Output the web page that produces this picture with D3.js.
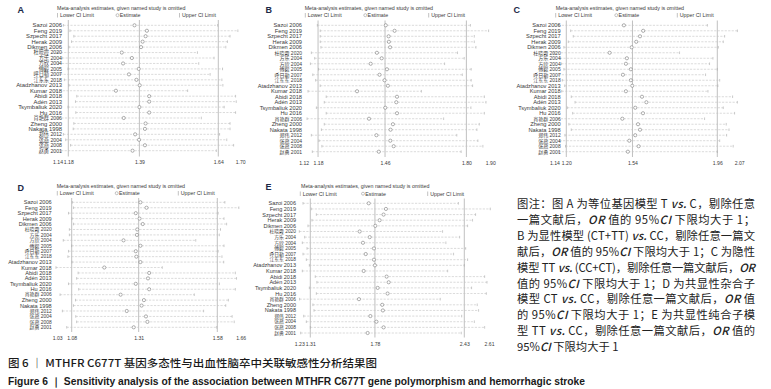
<!DOCTYPE html>
<html><head><meta charset="utf-8">
<script src="https://cdn.jsdelivr.net/npm/d3@7"></script>
<style>body{margin:0;background:#fff}svg{display:block}</style>
</head><body>
<svg id="c" width="771" height="389"></svg>
<script>
const studies = ["Sazoi 2006","Feng 2019","Szpecht 2017","Herak 2009","Dikmen 2006","杜晓霞 2020","方乐 2004","方欣 2004","傅毅 2005","呼日勒 2007","江东东 2018","Atadzhanov 2013","Kumar 2018","Abidi 2018","Adén 2013","Tsymbaliuk 2020","Hu 2016","肖艳群 2006","Zheng 2000","Nakata 1998","郑伟 2012","张燕 2004","张燕 2008","赵勇 2001"];

const lowerA = [1.165,1.185,1.197,1.190,1.182,1.146,1.161,1.150,1.179,1.155,1.168,1.182,1.142,1.206,1.202,1.179,1.203,1.148,1.197,1.195,1.165,1.172,1.187,1.158];
const estA   = [1.383,1.421,1.417,1.408,1.403,1.344,1.375,1.348,1.396,1.366,1.389,1.399,1.326,1.428,1.428,1.398,1.428,1.350,1.417,1.415,1.385,1.397,1.415,1.377];
const upperA = [1.638,1.700,1.676,1.668,1.663,1.576,1.627,1.580,1.653,1.615,1.651,1.654,1.546,1.693,1.695,1.658,1.693,1.588,1.676,1.676,1.644,1.666,1.687,1.634];
const overallA = [1.18,1.398,1.64];
const tickValsA = [1.147,1.18,1.398,1.64,1.707];
const tickLabelsA = ["1.14","1.18","1.39","1.64","1.70"];

const lowerB = [1.177,1.189,1.189,1.189,1.192,1.152,1.166,1.148,1.182,1.158,1.170,1.189,1.138,1.214,1.206,1.173,1.214,1.134,1.206,1.194,1.152,1.184,1.196,1.156];
const estB   = [1.463,1.500,1.475,1.476,1.481,1.426,1.446,1.400,1.468,1.437,1.458,1.472,1.343,1.510,1.507,1.461,1.510,1.393,1.493,1.483,1.424,1.482,1.496,1.434];
const upperB = [1.817,1.893,1.833,1.833,1.840,1.763,1.791,1.709,1.820,1.783,1.820,1.826,1.612,1.875,1.882,1.819,1.875,1.705,1.854,1.844,1.760,1.848,1.869,1.778];
const overallB = [1.18,1.46,1.80];
const tickValsB = [1.12,1.18,1.46,1.80,1.90];
const tickLabelsB = ["1.12","1.18","1.46","1.80","1.90"];

const lowerC = [1.160,1.222,1.235,1.210,1.188,1.138,1.168,1.175,1.188,1.160,1.180,1.192,1.177,1.225,1.244,1.205,1.232,1.155,1.213,1.225,1.193,1.166,1.196,1.160];
const estC   = [1.490,1.587,1.571,1.552,1.529,1.418,1.505,1.500,1.525,1.485,1.525,1.532,1.500,1.581,1.603,1.547,1.586,1.482,1.561,1.571,1.547,1.517,1.564,1.510];
const upperC = [1.910,2.061,1.997,1.990,1.965,1.770,1.938,1.921,1.960,1.901,1.972,1.963,1.913,2.037,2.061,1.990,2.047,1.896,2.005,2.019,2.007,1.972,2.040,1.960];
const overallC = [1.20,1.533,1.96];
const tickValsC = [1.14,1.20,1.533,1.96,2.07];
const tickLabelsC = ["1.14","1.20","1.54","1.96","2.07"];

const lowerD = [1.082,1.086,1.069,1.081,1.086,1.072,1.072,1.051,1.080,1.069,1.067,1.081,1.026,1.102,1.097,1.069,1.104,1.040,1.093,1.086,1.048,1.094,1.097,1.063];
const estD   = [1.316,1.337,1.300,1.313,1.324,1.305,1.304,1.258,1.316,1.300,1.302,1.316,1.192,1.346,1.342,1.300,1.346,1.248,1.328,1.320,1.269,1.335,1.340,1.293];
const upperD = [1.606,1.654,1.583,1.603,1.612,1.591,1.587,1.506,1.603,1.583,1.596,1.602,1.391,1.642,1.646,1.587,1.642,1.501,1.618,1.609,1.533,1.631,1.638,1.578];
const overallD = [1.08,1.31,1.58];
const tickValsD = [1.03,1.08,1.31,1.58,1.66];
const tickLabelsD = ["1.03","1.08","1.31","1.58","1.66"];

const lowerE = [1.257,1.317,1.354,1.322,1.293,1.230,1.269,1.252,1.286,1.257,1.281,1.303,1.252,1.346,1.358,1.303,1.354,1.232,1.329,1.337,1.262,1.281,1.310,1.240];
const estE   = [1.735,1.860,1.843,1.814,1.783,1.669,1.742,1.693,1.773,1.713,1.773,1.780,1.698,1.865,1.880,1.800,1.872,1.664,1.833,1.838,1.747,1.791,1.843,1.727];
const upperE = [2.387,2.619,2.512,2.490,2.454,2.272,2.396,2.296,2.440,2.352,2.454,2.430,2.309,2.578,2.595,2.483,2.590,2.255,2.524,2.534,2.411,2.503,2.578,2.408];
const overallE = [1.31,1.78,2.43];
const tickValsE = [1.23,1.31,1.78,2.43,2.61];
const tickLabelsE = ["1.23","1.31","1.78","2.43","2.61"];

const titleText = "Meta-analysis estimates, given named study is omitted";
const legendTexts = ["Lower CI Limit","Estimate","Upper CI Limit"];

const noteLines = [
 "图注：图 A 为等位基因模型 T *vs.* C，剔除任意",
 "一篇文献后，*OR* 值的 95%*CI* 下限均大于 1；",
 "B 为显性模型 (CT+TT) *vs.* CC，剔除任意一篇文",
 "献后，*OR* 值的 95%*CI* 下限均大于 1；C 为隐性",
 "模型 TT *vs.* (CC+CT)，剔除任意一篇文献后，*OR*",
 "值的 95%*CI* 下限均大于 1；D 为共显性杂合子",
 "模型 CT *vs.* CC，剔除任意一篇文献后，*OR* 值",
 "的 95%*CI* 下限均大于 1；E 为共显性纯合子模",
 "型 TT *vs.* CC，剔除任意一篇文献后，*OR* 值的",
 "95%*CI* 下限均大于 1"
];
const captionCN = "图 6 ｜ MTHFR C677T 基因多态性与出血性脑卒中关联敏感性分析结果图";
const captionEN = "Figure 6 ｜ Sensitivity analysis of the association between MTHFR C677T gene polymorphism and hemorrhagic stroke";

const FONT = "'Liberation Sans', Arial, 'Noto Sans CJK SC', sans-serif";
const svg = d3.select("#c");

const panels = [
 {key:"A", lo:lowerA, est:estA, up:upperA, overall:overallA, tv:tickValsA, tl:tickLabelsA,
  dom:[1.18,1.64], rng:[68.3,218.3], y0:25.3, y1:150.7, labelX:62, labelFs:5.9,
  letter:[17.5,12.5], titleX:57, titleY:9.5, legY:17, legX:[57.5,117.5,179.5], refTop:20, refBot:156.5, tickY:163.5},
 {key:"B", lo:lowerB, est:estB, up:upperB, overall:overallB, tv:tickValsB, tl:tickLabelsB,
  dom:[1.12,1.90], rng:[303.7,490.3], y0:25.3, y1:151.7, labelX:302, labelFs:5.7,
  letter:[265.5,12.5], titleX:304.7, titleY:9.5, legY:17, legX:[305.3,365.3,428.7], refTop:20.5, refBot:157, tickY:164.5},
 {key:"C", lo:lowerC, est:estC, up:upperC, overall:overallC, tv:tickValsC, tl:tickLabelsC,
  dom:[1.20,1.96], rng:[566.3,717.3], y0:25.3, y1:151.7, labelX:560.7, labelFs:5.7,
  letter:[513.5,12.5], titleX:555.7, titleY:9.5, legY:17, legX:[555.7,616.3,677.3], refTop:20.5, refBot:157, tickY:164.5},
 {key:"D", lo:lowerD, est:estD, up:upperD, overall:overallD, tv:tickValsD, tl:tickLabelsD,
  dom:[1.08,1.58], rng:[71.7,217.3], y0:202.3, y1:327.3, labelX:51.7, labelFs:5.6,
  letter:[17.5,191], titleX:56.7, titleY:187.5, legY:195, legX:[57.3,116.7,178.3], refTop:198, refBot:332, tickY:339.5},
 {key:"E", lo:lowerE, est:estE, up:upperE, overall:overallE, tv:tickValsE, tl:tickLabelsE,
  dom:[1.31,2.43], rng:[310.3,464.3], y0:203.3, y1:333, labelX:296, labelFs:5.5,
  letter:[265.5,190], titleX:301, titleY:187.5, legY:195.5, legX:[300.3,363,427.7], refTop:198.5, refBot:337.5, tickY:345.5}
];

const refCol = "#b0b0b0", ciCol = "#c2c2c2", dotCol = "#7a7a7a", txtCol = "#3a3a3a";
const isCJK = s => /[\u4e00-\u9fff]/.test(s);

panels.forEach(p => {
  const g = svg.append("g").attr("font-family", FONT);
  const x = d3.scaleLinear().domain(p.dom).range(p.rng);
  const y = d3.scalePoint().domain(studies).range([p.y0, p.y1]);
  const rows = studies.map((s,i)=>({s, lo:p.lo[i], est:p.est[i], up:p.up[i]}));

  g.append("text").attr("x", p.letter[0]).attr("y", p.letter[1]).text(p.key)
    .attr("font-size", 9).attr("font-weight", "bold").attr("fill", "#1c2846");

  g.append("text").attr("x", p.titleX).attr("y", p.titleY).text(titleText)
    .attr("font-size", 5.3).attr("fill", txtCol);
  const lg = g.append("g").attr("font-size", 5.3).attr("fill", txtCol);
  lg.append("line").attr("x1", p.legX[0]).attr("x2", p.legX[0]).attr("y1", p.legY-4).attr("y2", p.legY+0.5).attr("stroke", "#999").attr("stroke-width", 0.6);
  lg.append("text").attr("x", p.legX[0]+2.5).attr("y", p.legY).text(legendTexts[0]);
  lg.append("circle").attr("cx", p.legX[1]).attr("cy", p.legY-1.8).attr("r", 1.5).attr("fill", "none").attr("stroke", "#888").attr("stroke-width", 0.5);
  lg.append("text").attr("x", p.legX[1]+2.3).attr("y", p.legY).text(legendTexts[1]);
  lg.append("line").attr("x1", p.legX[2]).attr("x2", p.legX[2]).attr("y1", p.legY-4).attr("y2", p.legY+0.5).attr("stroke", "#999").attr("stroke-width", 0.6);
  lg.append("text").attr("x", p.legX[2]+2.5).attr("y", p.legY).text(legendTexts[2]);

  g.selectAll("line.ref").data(p.overall).join("line").attr("class","ref")
    .attr("x1", d=>x(d)).attr("x2", d=>x(d)).attr("y1", p.refTop).attr("y2", p.refBot)
    .attr("stroke", refCol).attr("stroke-width", 0.8);

  g.selectAll("line.ci").data(rows).join("line").attr("class","ci")
    .attr("x1", d=>x(d.lo)).attr("x2", d=>x(d.up)).attr("y1", d=>y(d.s)).attr("y2", d=>y(d.s))
    .attr("stroke", ciCol).attr("stroke-width", 0.6).attr("stroke-dasharray", "2.2,1.3");
  ["lo","up"].forEach(k => {
    g.selectAll("line.end"+k).data(rows).join("line").attr("class","end"+k)
      .attr("x1", d=>x(d[k])).attr("x2", d=>x(d[k])).attr("y1", d=>y(d.s)-1.3).attr("y2", d=>y(d.s)+1.3)
      .attr("stroke", "#aaa").attr("stroke-width", 0.6);
  });
  g.selectAll("circle.est").data(rows).join("circle").attr("class","est")
    .attr("cx", d=>x(d.est)).attr("cy", d=>y(d.s)).attr("r", 1.6)
    .attr("fill", "#fff").attr("stroke", dotCol).attr("stroke-width", 0.6);

  g.selectAll("text.lab").data(rows).join("text").attr("class","lab")
    .attr("x", p.labelX).attr("y", d=>y(d.s)).attr("dy", "0.36em").attr("text-anchor", "end")
    .attr("font-size", d => isCJK(d.s) ? p.labelFs*0.88 : p.labelFs)
    .attr("fill", txtCol).text(d=>d.s);

  const fs = 5.1;
  const ax = g.append("g").attr("transform", `translate(0,${p.tickY - fs*0.71})`)
    .call(d3.axisBottom(x).tickValues(p.tv).tickFormat((d,i)=>p.tl[i]).tickSize(0).tickPadding(0));
  ax.select(".domain").remove();
  ax.selectAll("text").attr("font-size", fs).attr("fill", txtCol).attr("font-family", FONT);
});

const noteX = 517, noteW = 238;
const ng = svg.append("g").attr("font-family", "'Noto Sans CJK SC', 'Noto Sans', sans-serif").attr("font-size", 11.3).attr("fill", "#222");
noteLines.forEach((line, i) => {
  const t = ng.append("text").attr("x", noteX).attr("y", 208 + i*15.9);
  line.split("*").forEach((seg, j) => {
    if (!seg) return;
    const ts = t.append("tspan").text(seg);
    if (j%2) ts.attr("font-style", "italic").attr("font-weight", 500);
  });
  if (i < noteLines.length - 1) t.attr("textLength", noteW).attr("lengthAdjust", "spacing");
});

svg.append("text").attr("x", 8).attr("y", 367).text(captionCN)
  .attr("font-family", "'Noto Sans CJK SC', sans-serif").attr("font-size", 10.5).attr("font-weight", 500).attr("fill", "#1a1a1a")
  .attr("textLength", 369).attr("lengthAdjust", "spacingAndGlyphs");
svg.append("text").attr("x", 8).attr("y", 385).text(captionEN)
  .attr("font-family", "'Liberation Sans Narrow', 'Liberation Sans', sans-serif").attr("font-size", 10).attr("font-weight", "bold").attr("fill", "#1a1a1a")
  .attr("textLength", 577).attr("lengthAdjust", "spacingAndGlyphs");
</script>
</body></html>
